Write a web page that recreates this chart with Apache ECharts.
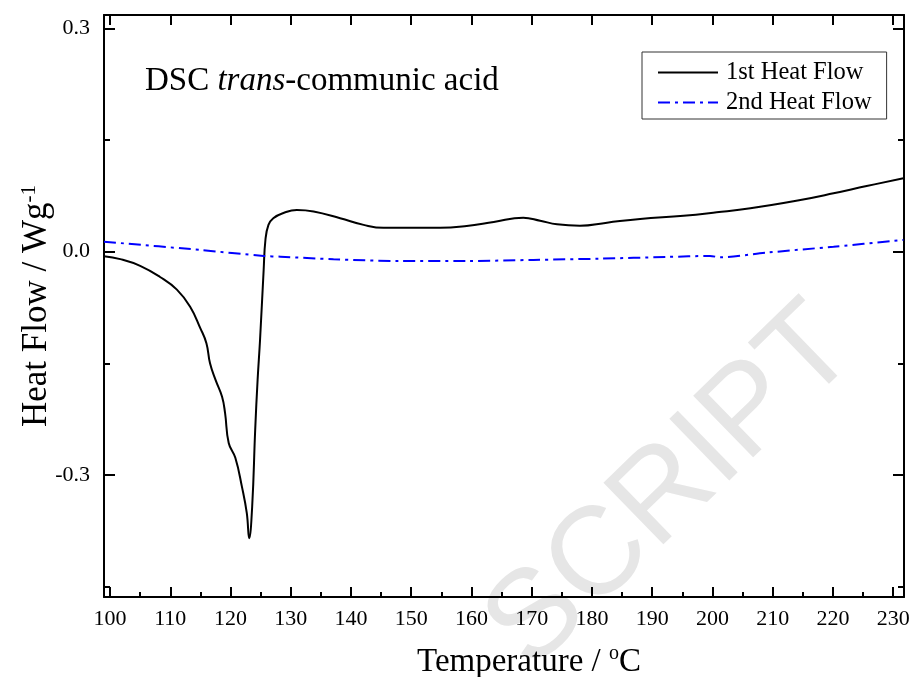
<!DOCTYPE html>
<html>
<head>
<meta charset="utf-8">
<script src="https://cdn.jsdelivr.net/npm/echarts@6/dist/echarts.min.js"></script>
<style>
  html, body { margin: 0; padding: 0; background: #fff; }
  #main { width: 914px; height: 677px; }
</style>
</head>
<body>
<div id="main"></div>
<script>
// 1st heat flow (black, solid)
var temp1 = [99.0, 101.7, 105.0, 108.3, 111.1, 113.3, 115.0, 116.0, 116.6, 117.5, 118.6, 119.1, 119.7, 120.8, 121.9, 122.7, 123.1,
  123.6, 124.1, 124.5, 124.9, 125.5, 125.8, 126.3, 127.1, 128.8, 131.0, 133.8, 138.2, 142.1, 145.4, 150.4, 154.8, 159.2,
  163.7, 168.6, 171.4, 174.2, 178.0, 182.5, 188.0, 195.2, 200.7, 206.3, 214.6, 220.1, 225.6, 231.7];
var flow1 = [-0.006, -0.010, -0.019, -0.034, -0.051, -0.074, -0.103, -0.123, -0.150, -0.172, -0.195, -0.217, -0.257, -0.277, -0.316, -0.351, -0.385,
  -0.342, -0.239, -0.172, -0.119, -0.025, 0.016, 0.036, 0.045, 0.052, 0.056, 0.054, 0.045, 0.036, 0.032, 0.032, 0.032, 0.0345,
  0.040, 0.0457, 0.0416, 0.0368, 0.0349, 0.039, 0.044, 0.0483, 0.0529, 0.0583, 0.0694, 0.0784, 0.0882, 0.0986];

// 2nd heat flow (blue, dash-dot)
var temp2 = [99.0, 115.0, 125.5, 128.3, 137.1, 148.2, 159.2, 170.3, 181.4, 192.4, 199.6, 201.3, 209.0, 220.1, 231.7];
var flow2 = [0.0134, 0.0023, -0.0058, -0.0067, -0.0102, -0.0125, -0.0125, -0.0111, -0.0094, -0.0071, -0.0058, -0.0075, -0.0013, 0.0067, 0.0157];

var xMajor = [100, 110, 120, 130, 140, 150, 160, 170, 180, 190, 200, 210, 220, 230];
var xMinor = [105, 115, 125, 135, 145, 155, 165, 175, 185, 195, 205, 215, 225];
var yMajor = [-0.3, 0, 0.3];
var yMinor = [-0.45, -0.15, 0.15];

var X_MIN = 99, X_MAX = 231.8, Y_MIN = -0.464, Y_MAX = 0.318;
var FONT = '"Liberation Serif", "Times New Roman", serif';

function zipData(xs, ys) {
  return xs.map(function (x, i) { return [x, ys[i]]; });
}

function tickAxis(type, position, ticks, len, showLine, label) {
  var isX = type === 'x';
  return {
    type: 'value',
    position: position,
    min: isX ? X_MIN : Y_MIN,
    max: isX ? X_MAX : Y_MAX,
    axisLine: { show: showLine, onZero: false, lineStyle: { color: '#000', width: 2 } },
    axisTick: { show: true, inside: true, length: len, customValues: ticks, lineStyle: { color: '#000', width: 2 } },
    axisLabel: label ? label : { show: false },
    splitLine: { show: false }
  };
}

var xBottom = tickAxis('x', 'bottom', xMajor, 10, true, {
  show: true, customValues: xMajor, color: '#000', fontSize: 22, fontFamily: FONT, margin: 11
});
xBottom.name = 'Temperature / {sup|o}C';
xBottom.nameLocation = 'middle';
xBottom.nameGap = 47;
xBottom.nameTextStyle = {
  fontSize: 33, fontFamily: FONT, color: '#000', padding: [0, 0, 0, 50], lineHeight: 36,
  rich: { sup: { fontSize: 20, fontFamily: FONT, color: '#000', verticalAlign: 'top', lineHeight: 36 } }
};

var yLeft = tickAxis('y', 'left', yMajor, 11, true, {
  show: true, customValues: yMajor, color: '#000', fontSize: 22, fontFamily: FONT, margin: 14,
  formatter: function (v) { return v.toFixed(1); }
});
yLeft.name = 'Heat Flow / Wg{sup|-1}';
yLeft.nameLocation = 'middle';
yLeft.nameGap = 49;
yLeft.nameMoveOverlap = false;
yLeft.nameTextStyle = {
  fontSize: 35, fontFamily: FONT, color: '#000', lineHeight: 36,
  rich: { sup: { fontSize: 21, fontFamily: FONT, color: '#000', verticalAlign: 'top', lineHeight: 36 } }
};

var chart = echarts.init(document.getElementById('main'));
chart.setOption({
  animation: false,
  backgroundColor: '#fff',
  grid: { left: 104, right: 10, top: 15, bottom: 80, containLabel: false, outerBoundsMode: 'none' },
  legend: {
    data: ['1st Heat Flow', '2nd Heat Flow'],
    orient: 'vertical',
    left: 642,
    top: 52,
    itemWidth: 60,
    itemHeight: 20,
    itemGap: 5,
    borderColor: '#333',
    borderWidth: 1,
    padding: [8, 15, 4, 15],
    itemStyle: { opacity: 0, color: 'transparent', borderWidth: 0 },
    textStyle: { fontSize: 24.5, fontFamily: FONT, color: '#000', padding: [0, 0, 0, 3] }
  },
  xAxis: [
    xBottom,
    tickAxis('x', 'bottom', xMinor, 5, false),
    tickAxis('x', 'top', xMajor, 10, true)
  ],
  yAxis: [
    yLeft,
    tickAxis('y', 'left', yMinor, 6, false),
    tickAxis('y', 'right', yMajor, 11, true),
    tickAxis('y', 'right', yMinor, 6, false)
  ],
  graphic: [
    {
      type: 'text',
      left: 145,
      top: 65,
      z: 10,
      style: {
        text: 'DSC {i|trans}-communic acid',
        font: '33px ' + FONT,
        fill: '#000',
        rich: { i: { fontStyle: 'italic', fontSize: 33, fontFamily: FONT, fill: '#000' } }
      }
    },
    {
      type: 'text',
      x: 672,
      y: 488,
      rotation: 0.77,
      z: -10,
      silent: true,
      style: {
        text: 'SCRIPT',
        font: '125px "Liberation Sans", Arial, sans-serif',
        fill: '#e6e6e6',
        align: 'center',
        verticalAlign: 'middle'
      }
    }
  ],
  series: [
    {
      name: '1st Heat Flow',
      type: 'line',
      xAxisIndex: 0,
      yAxisIndex: 0,
      data: zipData(temp1, flow1),
      symbol: 'none',
      smooth: 0.45,
      color: '#000',
      lineStyle: { color: '#000', width: 2 },
      z: 3
    },
    {
      name: '2nd Heat Flow',
      type: 'line',
      xAxisIndex: 0,
      yAxisIndex: 0,
      data: zipData(temp2, flow2),
      symbol: 'none',
      smooth: 0.3,
      color: '#0000ff',
      lineStyle: { color: '#0000ff', width: 2, type: [12, 5, 3, 5] },
      z: 3
    }
  ]
});
</script>
</body>
</html>
